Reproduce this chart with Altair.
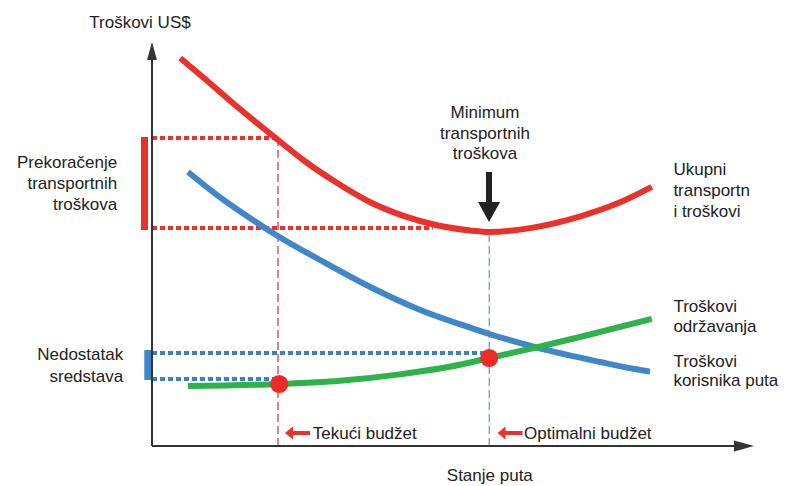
import altair as alt
import pandas as pd

# ---- curves (x: road condition, y: cost; abstract units) ----
total_x = [4.7, 8.5, 14.2, 21, 25.2, 30.8, 36.3, 41.8, 47.5, 53, 56.3, 63.5, 71.8, 77.5, 83.3]
total_y = [97, 92.2, 84.8, 76.5, 71.5, 65.8, 61, 57.6, 55.2, 53.9, 53.5, 54.6, 57.6, 60.6, 64.8]
user_x = [6, 11.3, 16.8, 21.3, 28, 36.3, 44.7, 53, 56.2, 64.2, 74.7, 80.2, 83]
user_y = [68.5, 62.2, 56.5, 52.2, 46.5, 39.8, 34, 29.6, 28.0, 24.6, 21.0, 19.3, 18.6]
maint_x = [6, 21.3, 31.3, 41.3, 51.3, 56.2, 64.2, 72, 83.3]
maint_y = [15, 15.5, 16.3, 17.9, 20.3, 22, 24.7, 27.5, 31.8]

# budget points
budget_x = [21.2, 56.2]
budget_y = [15.5, 22]

# dotted guide lines (red: total cost, blue: maintenance)
red_dot_x = [0, 0]
red_dot_x2 = [20.8, 46.8]
red_dot_y = [77, 54.5]
blue_dot_x = [0, 0]
blue_dot_x2 = [55.2, 20.8]
blue_dot_y = [23.25, 16.75]

# vertical dashed lines
vline_x = [21.0, 56.2]
vline_top = [77, 53.5]
vline_color = ["#c0392b", "#5b9bd5"]

# side bars
bar_x = [-1.25, -0.7]
bar_y = [77.25, 24]
bar_y2 = [54, 16.5]
bar_color = ["#e8322b", "#3f87c9"]

# texts
right_text = ["Prekoračenje", "transportnih", "troškova", "Nedostatak", "sredstava"]
right_x = [-5.8, -5.8, -5.8, -4.8, -4.8]
right_y = [70.75, 65.5, 60.25, 22.75, 17.25]

center_text = ["Troškovi US$", "Minimum", "transportnih", "troškova", "Stanje puta"]
center_x = [-2, 55.5, 55.5, 55.5, 56.3]
center_y = [105.75, 83.25, 78, 73, -7.5]

left_text = ["Ukupni", "transportn", "i troškovi", "Troškovi", "održavanja",
             "Troškovi", "korisnika puta", "Tekući budžet", "Optimalni budžet"]
left_x = [86.9, 86.9, 86.9, 86.9, 86.9, 86.9, 86.9, 26.8, 62]
left_y = [69, 63.75, 58.5, 34.75, 29.75, 21, 16.25, 3, 3]

XD = [-24, 104.667]
YD = [-9.5, 109.5]
FONT = "Liberation Sans"
TXT = "#222222"


def X(f="x"):
    return alt.X(f"{f}:Q", scale=alt.Scale(domain=XD, nice=False, zero=False), axis=None)


def Y(f="y"):
    return alt.Y(f"{f}:Q", scale=alt.Scale(domain=YD, nice=False, zero=False), axis=None)


def curve(xs, ys, color):
    df = pd.DataFrame({"x": xs, "y": ys})
    return alt.Chart(df).mark_line(color=color, strokeWidth=6, interpolate="monotone",
                                   strokeCap="butt").encode(x=X(), y=Y())


layers = []

# side bars
layers.append(alt.Chart(pd.DataFrame({"x": bar_x, "y": bar_y, "y2": bar_y2, "c": bar_color}))
              .mark_rule(strokeWidth=7)
              .encode(x=X(), y=Y(), y2="y2:Q", color=alt.Color("c:N", scale=None)))

# dotted horizontals
layers.append(alt.Chart(pd.DataFrame({"x": red_dot_x, "x2": red_dot_x2, "y": red_dot_y}))
              .mark_rule(color="#e8322b", strokeWidth=4, strokeDash=[5, 3])
              .encode(x=X(), x2="x2:Q", y=Y()))
layers.append(alt.Chart(pd.DataFrame({"x": blue_dot_x, "x2": blue_dot_x2, "y": blue_dot_y}))
              .mark_rule(color="#3f7fc4", strokeWidth=4, strokeDash=[5, 3])
              .encode(x=X(), x2="x2:Q", y=Y()))

# vertical dashed
layers.append(alt.Chart(pd.DataFrame({"x": vline_x, "y": [0, 0], "y2": vline_top, "c": vline_color}))
              .mark_rule(strokeWidth=1.2, strokeDash=[8, 4])
              .encode(x=X(), y=Y(), y2="y2:Q", color=alt.Color("c:N", scale=None)))

# axes
layers.append(alt.Chart(pd.DataFrame({"x": [0], "y": [0], "y2": [96.5]}))
              .mark_rule(color="#333333", strokeWidth=2)
              .encode(x=X(), y=Y(), y2="y2:Q"))
layers.append(alt.Chart(pd.DataFrame({"x": [0], "x2": [97.2], "y": [0]}))
              .mark_rule(color="#333333", strokeWidth=2)
              .encode(x=X(), x2="x2:Q", y=Y()))
layers.append(alt.Chart(pd.DataFrame({"x": [0], "y": [98.75]}))
              .mark_point(shape="M -0.55 1 L 0 -1 L 0.55 1 Z", size=324, filled=True,
                          color="#333333", opacity=1)
              .encode(x=X(), y=Y()))
layers.append(alt.Chart(pd.DataFrame({"x": [98.67], "y": [0]}))
              .mark_point(shape="M -1 -0.55 L 1 0 L -1 0.55 Z", size=400, filled=True,
                          color="#333333", opacity=1)
              .encode(x=X(), y=Y()))

# curves
layers.append(curve(total_x, total_y, "#e8322b"))
layers.append(curve(user_x, user_y, "#3f87c9"))
layers.append(curve(maint_x, maint_y, "#2db34a"))

# budget points
layers.append(alt.Chart(pd.DataFrame({"x": budget_x, "y": budget_y}))
              .mark_circle(size=330, color="#ee2b2b", opacity=1)
              .encode(x=X(), y=Y()))

# black minimum arrow
layers.append(alt.Chart(pd.DataFrame({"x": [56.17], "y": [62.25]}))
              .mark_point(shape="M -0.12 -1 L 0.12 -1 L 0.12 0.2 L 0.44 0.2 L 0 1 L -0.44 0.2 L -0.12 0.2 Z",
                          size=2500, filled=True, color="#222222", opacity=1)
              .encode(x=X(), y=Y()))

# small red arrows
layers.append(alt.Chart(pd.DataFrame({"x": [24.25, 59.67], "y": [3.25, 3.25]}))
              .mark_point(shape="M -1 0 L -0.36 -0.52 L -0.36 -0.16 L 1 -0.16 L 1 0.16 L -0.36 0.16 L -0.36 0.52 Z",
                          size=625, filled=True, color="#e8322b", opacity=1)
              .encode(x=X(), y=Y()))

# texts
for txt, xs, ys, al in [(right_text, right_x, right_y, "right"),
                        (center_text, center_x, center_y, "center"),
                        (left_text, left_x, left_y, "left")]:
    layers.append(alt.Chart(pd.DataFrame({"t": txt, "x": xs, "y": ys}))
                  .mark_text(align=al, baseline="middle", font=FONT, fontSize=17, color=TXT)
                  .encode(x=X(), y=Y(), text="t:N"))

chart = alt.layer(*layers).properties(
    width=772, height=476,
    autosize=alt.AutoSizeParams(type="none"),
    padding=0,
).configure_view(stroke=None)

chart.save("out.html", embed_options={"renderer": "svg", "actions": False})
